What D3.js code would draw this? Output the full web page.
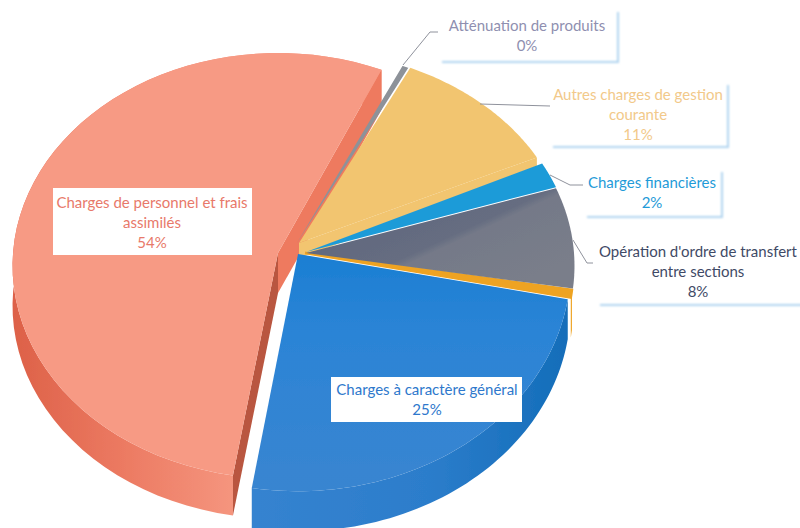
<!DOCTYPE html>
<html><head><meta charset="utf-8"><script src="https://cdn.jsdelivr.net/npm/d3@7"></script>
<style>html,body{margin:0;background:#fff}svg{display:block}</style></head><body><svg id="c" width="800" height="528"></svg>
<script>
const categories=["Charges de personnel et frais assimilés","Atténuation de produits","Autres charges de gestion courante","Charges financières","Opération d'ordre de transfert entre sections","(sans étiquette)","Charges à caractère général"];
const values=[54.2,0.4,10.8,2,7.7,0.55,24.35];
const percentLabels=["54%","0%","11%","2%","8%","","25%"];
const topColors=["#f79a84","#8d9299","#f2c56f","#1f9bd8","#70768a","#eea322","#2e84d6"];
const sideColors=["#ee7a5e","#666b75","#f2c56f","#1477b0","#505668","#eea322","#1a6fbc"];
const textColors=["#e8796a","#8f8fb0","#f2c98a","#1f9bd8","#3f4a66","#000","#2e78cc"];
const sliceGeom=[[278,253,265,212],[297,243,270,205],[299,243,270,205],[306,252,268,212],[306,253,268,212],[305,253,268,220],[298,254,272,223]];
const k=0.06,depth=40;
const svg=d3.select("#c");
const pie=d3.pie().sort(null).value(d=>d).startAngle(189.2*Math.PI/180).endAngle((189.2+360)*Math.PI/180);
const arcs=pie(values);
const line=d3.line();
function projector(i){
  const [cx,cy,rx,ry]=sliceGeom[i];
  const sx=d3.scaleLinear().domain([-1,1]).range([cx-rx,cx+rx]);
  const sy=d3.scaleLinear().domain([-1,1]).range([cy+ry,cy-ry]);
  return a=>{const u=Math.sin(a),v=Math.cos(a),w=1+k*v;return [sx(u/w),sy(v/w)];};
}
const defs=svg.append("defs");
const blur=defs.append("filter").attr("id","b").attr("x","-5%").attr("y","-20%").attr("width","110%").attr("height","140%");
blur.append("feGaussianBlur").attr("stdDeviation",0.8);
const soft=defs.append("filter").attr("id","soft").attr("x","-2%").attr("y","-2%").attr("width","104%").attr("height","104%");
soft.append("feGaussianBlur").attr("stdDeviation",0.35);
function grad(id,attrs,stops){
  const g=defs.append("linearGradient").attr("id",id).attr("gradientUnits","userSpaceOnUse");
  Object.entries(attrs).forEach(([k,v])=>g.attr(k,v));
  stops.forEach(([o,c])=>g.append("stop").attr("offset",o).attr("stop-color",c));
}
grad("wall0",{x1:13,x2:233,y1:0,y2:0},[[0,"#dd6148"],[0.5,"#ec7a62"],[1,"#f5957e"]]);
grad("wall6",{x1:253,x2:570,y1:0,y2:0},[[0,"#3583d0"],[0.55,"#2c7dcb"],[1,"#136db9"]]);
grad("top6",{x1:0,x2:0,y1:260,y2:500},[[0,"#1c7fd3"],[0.3,"#2b84d6"],[1,"#3a85d0"]]);
grad("top4",{x1:380,x2:440,y1:190,y2:320},[[0,"#5f677d"],[0.5,"#666d81"],[0.55,"#747988"],[1,"#7a7e8a"]]);
const topFill=i=>i===6?"url(#top6)":i===4?"url(#top4)":topColors[i];
const wallFill=i=>i===0?"url(#wall0)":i===6?"url(#wall6)":sideColors[i];
const g=svg.append("g").attr("filter","url(#soft)");
const wallOrder=[0,5,6];
const topOrder=[0,6,5,4,3,2,1];
const rims=arcs.map((a,i)=>{const p=projector(i);return d3.range(0,61).map(j=>p(a.startAngle+(a.endAngle-a.startAngle)*j/60));});
const apexes=sliceGeom.map(s=>[s[0],s[1]]);
const down=(p,d=depth)=>[p[0],p[1]+d];
wallOrder.forEach(i=>{
  const r=rims[i],ap=apexes[i];
  g.append("path").attr("d",line([...r,...r.slice().reverse().map(p=>down(p))])+"Z").attr("fill",wallFill(i));
  if(i===0){
    g.append("path").attr("d",line([ap,r[60],down(r[60]),down(ap)])+"Z").attr("fill",sideColors[0]);
    g.append("path").attr("d",line([ap,r[0],down(r[0]),down(ap)])+"Z").attr("fill","#b9563f");
  }
});
{
  const r=rims[2],ap=apexes[2];
  g.append("path").attr("d",line([ap,r[60],down(r[60],15),down(ap,15)])+"Z").attr("fill",sideColors[2]);
}
topOrder.forEach(i=>{
  const p=g.append("path").attr("d",line([apexes[i],...rims[i]])+"Z").attr("fill",topFill(i));
  if(i===5)p.attr("stroke",topColors[5]).attr("stroke-width",2.5);
});
const leaders=[[[403,65],[430,32],[438,32]],[[480,104],[550,106]],[[550,175],[570,185],[583,185]],[[573,240],[587,263],[593,263]]];
leaders.forEach(l=>svg.append("path").attr("d",line(l)).attr("fill","none").attr("stroke","#8f929c").attr("stroke-width",1));
const labels=[
 {i:0,x:53,y:188,w:199,h:67,tx:152,ty:203,l:["Charges de personnel et frais","assimilés"],s:false},
 {i:1,x:442,y:12,w:176,h:50,tx:527,ty:26,l:["Atténuation de produits"],s:true},
 {i:2,x:553,y:85,w:175,h:62,tx:638,ty:95,l:["Autres charges de gestion","courante"],s:true},
 {i:3,x:587,y:172,w:135,h:45,tx:652,ty:183,l:["Charges financières"],s:true},
 {i:4,x:600,y:236,w:204,h:69,tx:698,ty:252,l:["Opération d'ordre de transfert","entre sections"],s:true},
 {i:6,x:331,y:377,w:191,h:45,tx:427,ty:390,l:["Charges à caractère général"],s:false}];
labels.forEach(b=>{
  svg.append("rect").attr("x",b.x).attr("y",b.y).attr("width",b.w).attr("height",b.h).attr("fill","#fff");
  if(b.s)svg.append("path").attr("d",line([[b.x,b.y+b.h],[b.x+b.w,b.y+b.h],[b.x+b.w,b.y]])).attr("fill","none").attr("stroke","#b0d4f0").attr("stroke-width",2).attr("filter","url(#b)");
  [...b.l,percentLabels[b.i]].forEach((t,j)=>svg.append("text").attr("x",b.tx).attr("y",b.ty+j*20).attr("dy","0.35em").attr("text-anchor","middle").attr("font-family","Lato,sans-serif").attr("font-size",15).attr("fill",textColors[b.i]).text(t));
});
</script></body></html>
